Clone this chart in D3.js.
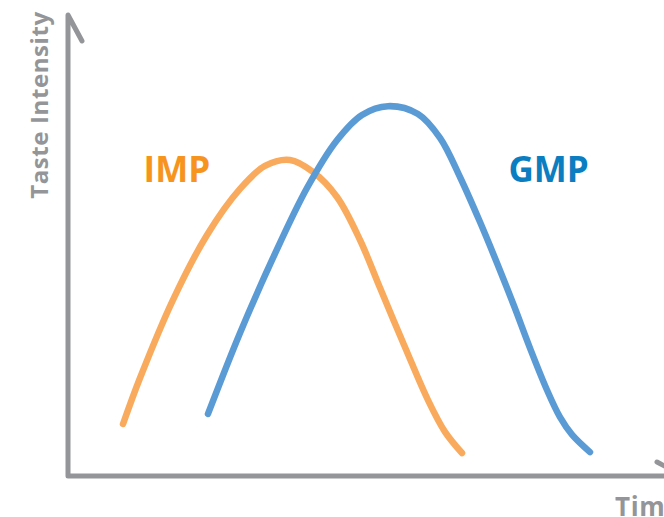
<!DOCTYPE html>
<html>
<head>
<meta charset="utf-8">
<script src="https://cdn.jsdelivr.net/npm/d3@7"></script>
<style>
  body { margin: 0; background: #fff; }
  svg { display: block; }
</style>
</head>
<body>
<div id="chart-area"></div>
<script>
var W = 664, H = 517;
var margin = {top: 16, right: -4, bottom: 41, left: 68};
var width = W - margin.left - margin.right;
var height = H - margin.top - margin.bottom;

// time (0-100) and taste intensity (0-100)
var impTime = [9.17, 12, 17.5, 23.17, 28.67, 32.83, 37, 40.83, 44.83, 48.67, 52, 56.17, 60, 62.83, 65.67];
var impValue = [11.3, 21.3, 38.3, 52.4, 62.4, 67.4, 68.7, 66.1, 60.65, 51.3, 40.9, 28, 16.5, 9.6, 5];

var gmpTime = [23.33, 28.67, 34.17, 39.83, 44.83, 49, 53.33, 58.33, 62, 65.33, 68.67, 71.5, 74.33, 77, 79.83, 82, 84, 87];
var gmpValue = [13.5, 31.1, 47.4, 62.6, 73, 78.5, 80.4, 78.7, 73.5, 65, 55.2, 46.3, 37, 27.8, 18.7, 12.8, 9, 5.2];

var seriesNames = ["IMP", "GMP"];
var labelPos = [[12.6, 64], [73.4, 64]];

var axisColor = "#939598";
var lineColors = ["#F9AA5C", "#5B9BD5"];
var textColors = ["#F7941D", "#0B7DC1"];

var svg = d3.select("#chart-area")
  .append("svg")
    .attr("width", W)
    .attr("height", H);

var g = svg.append("g")
  .attr("transform", "translate(" + margin.left + ", " + margin.top + ")");

var x = d3.scaleLinear().domain([0, 100]).range([0, width]);
var y = d3.scaleLinear().domain([0, 100]).range([height, 0]);

// axes drawn as one path with rounded corner and open arrow barbs
var axisPath = d3.path();
axisPath.moveTo(14, 25);
axisPath.lineTo(0, -1);
axisPath.lineTo(0, height);
axisPath.lineTo(width + 15, height);
axisPath.lineTo(width - 11, height - 14);

g.append("path")
  .attr("d", axisPath.toString())
  .attr("fill", "none")
  .attr("stroke", axisColor)
  .attr("stroke-width", 5)
  .attr("stroke-linejoin", "round")
  .attr("stroke-linecap", "round");

g.append("text")
  .attr("transform", "translate(-20, " + 89 + ") rotate(-90)")
  .attr("text-anchor", "middle")
  .attr("font-family", "Open Sans")
  .attr("font-weight", 700)
  .attr("font-size", "24px")
  .attr("letter-spacing", "0.6px")
  .style("fill", axisColor)
  .text("Taste Intensity");

g.append("text")
  .attr("x", 547)
  .attr("y", height + 40)
  .attr("font-family", "Open Sans")
  .attr("font-weight", 700)
  .attr("font-size", "26px")
  .attr("letter-spacing", "0.6px")
  .style("fill", axisColor)
  .text("Time");

var line = d3.line()
  .x(function(d) { return x(d[0]); })
  .y(function(d) { return y(d[1]); })
  .curve(d3.curveCatmullRom.alpha(0.5));

var series = [
  d3.zip(impTime, impValue),
  d3.zip(gmpTime, gmpValue)
];

series.forEach(function(pts, i) {
  g.append("path")
    .datum(pts)
    .attr("d", line)
    .attr("fill", "none")
    .attr("stroke", lineColors[i])
    .attr("stroke-width", 6.5)
    .attr("stroke-linecap", "round");

  g.append("text")
    .attr("x", x(labelPos[i][0]))
    .attr("y", y(labelPos[i][1]))
    .attr("font-family", "Open Sans")
    .attr("font-weight", 700)
    .attr("font-size", "35px")
    .style("fill", textColors[i])
    .text(seriesNames[i]);
});
</script>
</body>
</html>
